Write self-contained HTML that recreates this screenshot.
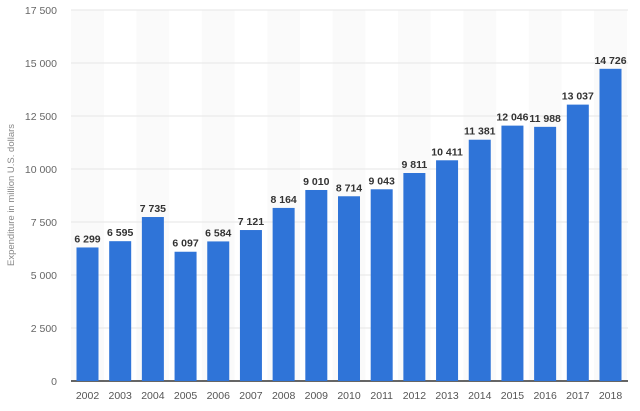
<!DOCTYPE html>
<html><head><meta charset="utf-8"><style>
body{margin:0;background:#fff;}
svg{display:block;font-family:"Liberation Sans",sans-serif;}
</style></head><body>
<svg id="chart" width="640" height="411">
<text x="14" y="195" transform="rotate(-90 14 195)" text-anchor="middle" font-size="9.5" fill="#888">Expenditure in million U.S. dollars</text>
<g id="grid"></g><g id="bars"></g><g id="labels"></g>
</svg>
<script>
const years=["2002","2003","2004","2005","2006","2007","2008","2009","2010","2011","2012","2013","2014","2015","2016","2017","2018"];
const values=[6299,6595,7735,6097,6584,7121,8164,9010,8714,9043,9811,10411,11381,12046,11988,13037,14726];
const ticks=[0,2500,5000,7500,10000,12500,15000,17500];
const tickLabels=["0","2 500","5 000","7 500","10 000","12 500","15 000","17 500"];
const NS="http://www.w3.org/2000/svg";
const y0=381,yMax=17500,ph=371,x0=71,x1=628;
const step=(610.5-87.5)/16, bw=22;
const yS=v=>y0-v/yMax*ph;
const xS=i=>87.5+i*step;
function mk(t,a,p){const e=document.createElementNS(NS,t);for(const k in a)e.setAttribute(k,a[k]);p.appendChild(e);return e;}
const grid=document.getElementById('grid'),bars=document.getElementById('bars'),labels=document.getElementById('labels');
years.forEach((y,i)=>{if(i%2===0){const r=mk('rect',{x:xS(i)-step/2,y:yS(yMax),width:step,height:ph,fill:'#fafafa'},grid);

}});
ticks.forEach((t,i)=>{
 const l=mk('line',{x1:x0,x2:x1,y1:yS(t),y2:yS(t),stroke:t===0?'#333':'#e6e6e6','stroke-width':t===0?1.5:1},grid);
 
 
 const tx=mk('text',{x:57,y:yS(t)+4,'text-anchor':'end','font-size':10.5,fill:'#666'},grid);
 tx.textContent=tickLabels[i];
 
 
});
values.forEach((v,i)=>{
 const r=mk('rect',{x:xS(i)-bw/2,y:yS(v),width:bw,height:y0-yS(v),fill:'#2f74d8'},bars);
 
 
 const t=mk('text',{x:xS(i),y:yS(v)-5,'text-anchor':'middle','font-size':10.5,'font-weight':'bold',fill:'#333'},labels);
 t.textContent=String(v).replace(/\B(?=(\d{3})+(?!\d))/g,' ');
 
 
 const x=mk('text',{x:xS(i),y:399,'text-anchor':'middle','font-size':10.5,fill:'#555'},labels);
 x.textContent=years[i];
 
 
});
</script>
</body></html>
